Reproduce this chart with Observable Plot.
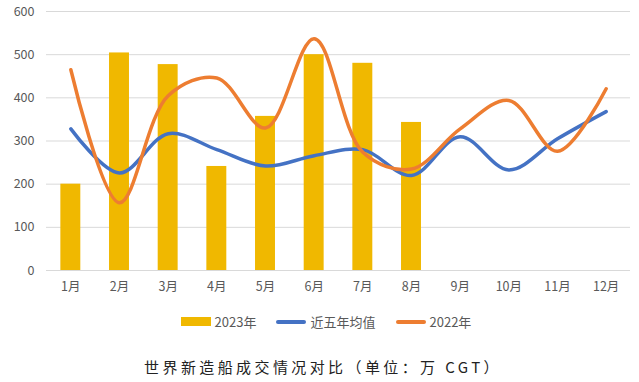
<!DOCTYPE html>
<html><head><meta charset="utf-8">
<script src="https://cdn.jsdelivr.net/npm/d3@7"></script>
<script src="https://cdn.jsdelivr.net/npm/@observablehq/plot@0.6"></script>
<style>
body{margin:0;background:#fff;font-family:"Noto Sans CJK SC","Noto Sans",sans-serif;}
#wrap{width:639px;height:382px;position:relative;}
#legend{position:absolute;top:312px;left:0;width:652px;display:flex;justify-content:center;gap:20px;font-size:13px;color:#595959;}
.item{display:flex;align-items:center;gap:4px;}
.sw{width:30px;}
#title{position:absolute;top:356px;left:0;width:646px;text-align:center;font-size:15px;letter-spacing:3.4px;color:#222;}
</style></head>
<body><div id="wrap"><div id="chart"></div>
<div id="legend"></div>
<div id="title">世界新造船成交情况对比（单位：万 CGT）</div></div>
<script>
const months = ["1月","2月","3月","4月","5月","6月","7月","8月","9月","10月","11月","12月"];
const s2023 = [200,504,477,241,357,500,480,343];
const avg5 = [328,226,317,280,242,266,280,220,310,233,305,368];
const s2022 = [465,157,405,446,330,537,274,235,328,394,276,421];
const yTicks = [0,100,200,300,400,500,600];
const seriesNames = ["2023年","近五年均值","2022年"];
const colors = ["#F0B800","#4472C4","#ED7D31"];

const bars = s2023.map((v,i)=>({m:months[i],v}));
const lineA = avg5.map((v,i)=>({m:months[i],v}));
const lineB = s2022.map((v,i)=>({m:months[i],v}));

const chart = Plot.plot({
  width:639,height:300,
  marginTop:11,marginBottom:30,marginLeft:46,marginRight:9,
  style:{fontFamily:"'Noto Sans CJK SC','Noto Sans',sans-serif",fontSize:"12.5px",color:"#595959",background:"#fff"},
  x:{domain:months,paddingInner:0.59,paddingOuter:0.295,round:false,label:null,tickSize:0,tickPadding:12},
  y:{domain:[0,600],ticks:yTicks,label:null,tickSize:0,tickPadding:12},
  marks:[
    Plot.ruleY(yTicks,{stroke:"#D9D9D9",strokeWidth:1}),
    Plot.barY(bars,{x:"m",y:"v",fill:colors[0]}),
    Plot.line(lineA,{x:"m",y:"v",stroke:colors[1],strokeWidth:3.5,curve:"catmull-rom"}),
    Plot.line(lineB,{x:"m",y:"v",stroke:colors[2],strokeWidth:3.5,curve:"catmull-rom"})
  ]
});
document.getElementById("chart").appendChild(chart);

const lg = document.getElementById("legend");
seriesNames.forEach((n,i)=>{
  const it=document.createElement("div");it.className="item";
  const sw=document.createElement("div");sw.className="sw";
  sw.style.height = i===0?"9px":"4px";
  sw.style.background=colors[i];
  if(i>0) sw.style.borderRadius="2px";
  const t=document.createElement("span");t.textContent=n;
  it.appendChild(sw);it.appendChild(t);lg.appendChild(it);
});
</script></body></html>
